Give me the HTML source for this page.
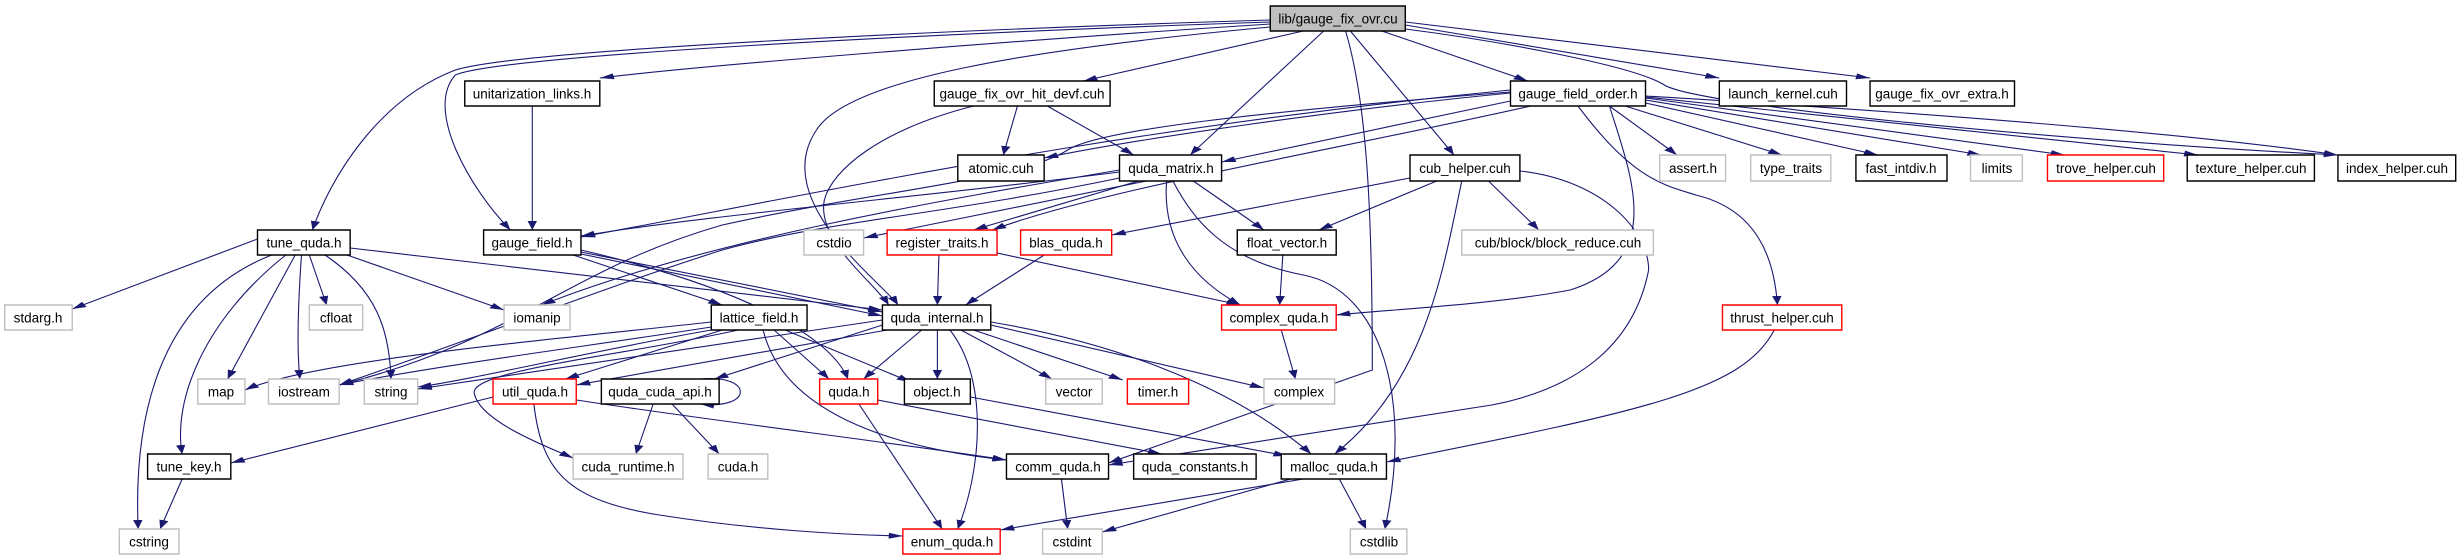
<!DOCTYPE html>
<html><head><meta charset="utf-8"><style>
html,body{margin:0;padding:0;background:#fff;width:2462px;height:560px;overflow:hidden}
svg{position:absolute;left:0;top:0}
text{font-family:"Liberation Sans",Arial,sans-serif;font-size:13.5px;fill:#000;text-anchor:middle}
</style></head><body>
<svg width="2462" height="560" viewBox="0 0 1568 560" preserveAspectRatio="none">
<defs><marker id="a" markerWidth="9" markerHeight="6" refX="9" refY="3" orient="auto" markerUnits="userSpaceOnUse"><path d="M0,0 L9,3 L0,6 z" fill="#191970"/></marker></defs>
<g fill="none" stroke="#191970" stroke-width="1.1" vector-effect="non-scaling-stroke" marker-end="url(#a)">
<path vector-effect="non-scaling-stroke" d="M809,24 C650,40 450,65 382,78"/>
<path vector-effect="non-scaling-stroke" d="M809,20 C600,30 330,50 290,70 C240,100 210,180 199,230"/>
<path vector-effect="non-scaling-stroke" d="M809,22 C600,33 320,55 290,75 C270,110 300,190 325,230"/>
<path vector-effect="non-scaling-stroke" d="M830,31 L690,81"/>
<path vector-effect="non-scaling-stroke" d="M843,31 L758,155"/>
<path vector-effect="non-scaling-stroke" d="M809,27 C650,50 540,80 520,130 C490,200 560,280 572,305"/>
<path vector-effect="non-scaling-stroke" d="M857,31 C870,100 874,200 874,370 L706,463"/>
<path vector-effect="non-scaling-stroke" d="M860,31 L926,155"/>
<path vector-effect="non-scaling-stroke" d="M880,31 L973,81"/>
<path vector-effect="non-scaling-stroke" d="M895,25 L1095,78"/>
<path vector-effect="non-scaling-stroke" d="M895,22 L1191,78"/>
<path vector-effect="non-scaling-stroke" d="M895,29 C950,40 1040,65 1060,85 C1080,105 1300,140 1489,155"/>
<path vector-effect="non-scaling-stroke" d="M339,106 L339,230"/>
<path vector-effect="non-scaling-stroke" d="M648,106 L639,155"/>
<path vector-effect="non-scaling-stroke" d="M667,106 L722,155"/>
<path vector-effect="non-scaling-stroke" d="M620,106 C560,130 530,170 525,200 C520,240 555,280 566,305"/>
<path vector-effect="non-scaling-stroke" d="M962,93 C850,110 720,140 665,158"/>
<path vector-effect="non-scaling-stroke" d="M965,100 L778,162"/>
<path vector-effect="non-scaling-stroke" d="M962,90 C700,130 500,200 370,237"/>
<path vector-effect="non-scaling-stroke" d="M975,106 C850,150 700,190 632,230"/>
<path vector-effect="non-scaling-stroke" d="M962,92 C800,112 700,130 680,150 C650,180 560,190 460,225 C360,270 330,340 216,385"/>
<path vector-effect="non-scaling-stroke" d="M1025,106 C1040,180 1060,260 1000,290 C950,305 880,310 851,315"/>
<path vector-effect="non-scaling-stroke" d="M1005,106 C1040,180 1060,185 1080,195 C1120,210 1130,260 1132,305"/>
<path vector-effect="non-scaling-stroke" d="M1025,106 L1068,155"/>
<path vector-effect="non-scaling-stroke" d="M1035,106 L1135,155"/>
<path vector-effect="non-scaling-stroke" d="M1048,103 L1196,155"/>
<path vector-effect="non-scaling-stroke" d="M1048,100 L1262,155"/>
<path vector-effect="non-scaling-stroke" d="M1048,98 L1315,155"/>
<path vector-effect="non-scaling-stroke" d="M1048,97 L1400,155"/>
<path vector-effect="non-scaling-stroke" d="M1048,96 C1250,115 1400,135 1489,155"/>
<path vector-effect="non-scaling-stroke" d="M730,181 L550,238"/>
<path vector-effect="non-scaling-stroke" d="M725,181 L620,230"/>
<path vector-effect="non-scaling-stroke" d="M760,181 L805,230"/>
<path vector-effect="non-scaling-stroke" d="M743,181 C740,240 760,280 790,305"/>
<path vector-effect="non-scaling-stroke" d="M747,181 C760,220 780,260 830,275 C880,290 900,400 882,529"/>
<path vector-effect="non-scaling-stroke" d="M713,170 C600,200 450,240 345,305"/>
<path vector-effect="non-scaling-stroke" d="M713,178 C600,215 530,220 460,250 C380,290 300,340 216,385"/>
<path vector-effect="non-scaling-stroke" d="M713,172 C600,195 450,215 370,236"/>
<path vector-effect="non-scaling-stroke" d="M898,178 L708,235"/>
<path vector-effect="non-scaling-stroke" d="M915,181 L840,230"/>
<path vector-effect="non-scaling-stroke" d="M948,181 L980,230"/>
<path vector-effect="non-scaling-stroke" d="M931,181 C920,260 910,380 850,454"/>
<path vector-effect="non-scaling-stroke" d="M968,171 C1020,180 1050,230 1050,270 C1040,350 1000,390 950,405 L706,465"/>
<path vector-effect="non-scaling-stroke" d="M164,239 L46,309"/>
<path vector-effect="non-scaling-stroke" d="M197,255 L208,305"/>
<path vector-effect="non-scaling-stroke" d="M221,255 L321,310"/>
<path vector-effect="non-scaling-stroke" d="M188,255 L145,379"/>
<path vector-effect="non-scaling-stroke" d="M192,255 C190,300 189,350 191,379"/>
<path vector-effect="non-scaling-stroke" d="M207,255 C240,290 248,330 249,379"/>
<path vector-effect="non-scaling-stroke" d="M173,255 C100,300 85,420 88,529"/>
<path vector-effect="non-scaling-stroke" d="M182,255 C130,320 110,400 116,454"/>
<path vector-effect="non-scaling-stroke" d="M223,248 L562,310"/>
<path vector-effect="non-scaling-stroke" d="M365,255 L460,305"/>
<path vector-effect="non-scaling-stroke" d="M370,252 L562,312"/>
<path vector-effect="non-scaling-stroke" d="M370,254 L562,316"/>
<path vector-effect="non-scaling-stroke" d="M370,250 C480,290 530,340 540,379"/>
<path vector-effect="non-scaling-stroke" d="M453,322 C350,340 200,360 156,390"/>
<path vector-effect="non-scaling-stroke" d="M453,327 C380,345 280,365 216,385"/>
<path vector-effect="non-scaling-stroke" d="M453,330 C380,350 300,380 266,387"/>
<path vector-effect="non-scaling-stroke" d="M460,330 L360,379"/>
<path vector-effect="non-scaling-stroke" d="M493,330 L528,379"/>
<path vector-effect="non-scaling-stroke" d="M500,330 L580,382"/>
<path vector-effect="non-scaling-stroke" d="M486,330 C500,420 580,450 641,460"/>
<path vector-effect="non-scaling-stroke" d="M470,330 C400,355 300,370 302,393 C305,420 345,445 365,458"/>
<path vector-effect="non-scaling-stroke" d="M562,325 L455,379"/>
<path vector-effect="non-scaling-stroke" d="M562,320 L266,389"/>
<path vector-effect="non-scaling-stroke" d="M565,330 L367,385"/>
<path vector-effect="non-scaling-stroke" d="M587,330 L550,379"/>
<path vector-effect="non-scaling-stroke" d="M597,330 L597,379"/>
<path vector-effect="non-scaling-stroke" d="M605,330 C630,380 625,470 610,529"/>
<path vector-effect="non-scaling-stroke" d="M612,330 L670,379"/>
<path vector-effect="non-scaling-stroke" d="M620,330 L715,380"/>
<path vector-effect="non-scaling-stroke" d="M631,325 L805,388"/>
<path vector-effect="non-scaling-stroke" d="M631,322 C700,340 780,380 835,454"/>
<path vector-effect="non-scaling-stroke" d="M598,255 L597,305"/>
<path vector-effect="non-scaling-stroke" d="M635,253 L790,305"/>
<path vector-effect="non-scaling-stroke" d="M665,255 L615,305"/>
<path vector-effect="non-scaling-stroke" d="M817,255 L815,305"/>
<path vector-effect="non-scaling-stroke" d="M816,330 L825,379"/>
<path vector-effect="non-scaling-stroke" d="M314,397 L147,463"/>
<path vector-effect="non-scaling-stroke" d="M367,400 C450,420 580,445 641,460"/>
<path vector-effect="non-scaling-stroke" d="M340,404 C345,470 360,500 420,515 C480,530 540,535 575,536"/>
<path vector-effect="non-scaling-stroke" d="M416,404 L405,454"/>
<path vector-effect="non-scaling-stroke" d="M428,404 L458,454"/>
<path vector-effect="non-scaling-stroke" d="M446,379 C480,374 480,410 446,404"/>
<path vector-effect="non-scaling-stroke" d="M547,404 L600,529"/>
<path vector-effect="non-scaling-stroke" d="M559,400 L740,454"/>
<path vector-effect="non-scaling-stroke" d="M618,397 L820,456"/>
<path vector-effect="non-scaling-stroke" d="M116,479 L102,529"/>
<path vector-effect="non-scaling-stroke" d="M676,479 L680,529"/>
<path vector-effect="non-scaling-stroke" d="M830,479 L637,530"/>
<path vector-effect="non-scaling-stroke" d="M822,479 L702,532"/>
<path vector-effect="non-scaling-stroke" d="M853,479 L870,529"/>
<path vector-effect="non-scaling-stroke" d="M1130,330 C1110,390 1050,410 883,462"/>
</g>
<g fill="#fff" stroke-width="1.4">
<rect vector-effect="non-scaling-stroke" x="809" y="6" width="86" height="25" fill="#bfbfbf" stroke="#000"/>
<g stroke="#000">
<rect vector-effect="non-scaling-stroke" x="296" y="81" width="86" height="25"/>
<rect vector-effect="non-scaling-stroke" x="595" y="81" width="112" height="25"/>
<rect vector-effect="non-scaling-stroke" x="962" y="81" width="86" height="25"/>
<rect vector-effect="non-scaling-stroke" x="1095" y="81" width="81" height="25"/>
<rect vector-effect="non-scaling-stroke" x="1191" y="81" width="92" height="25"/>
<rect vector-effect="non-scaling-stroke" x="610" y="155" width="55" height="26"/>
<rect vector-effect="non-scaling-stroke" x="713" y="155" width="65" height="26"/>
<rect vector-effect="non-scaling-stroke" x="898" y="155" width="70" height="26"/>
<rect vector-effect="non-scaling-stroke" x="1182" y="155" width="58" height="26"/>
<rect vector-effect="non-scaling-stroke" x="1393" y="155" width="81" height="26"/>
<rect vector-effect="non-scaling-stroke" x="1489" y="155" width="75" height="26"/>
<rect vector-effect="non-scaling-stroke" x="164" y="230" width="59" height="25"/>
<rect vector-effect="non-scaling-stroke" x="308" y="230" width="62" height="25"/>
<rect vector-effect="non-scaling-stroke" x="788" y="230" width="63" height="25"/>
<rect vector-effect="non-scaling-stroke" x="453" y="305" width="61" height="25"/>
<rect vector-effect="non-scaling-stroke" x="562" y="305" width="69" height="25"/>
<rect vector-effect="non-scaling-stroke" x="383" y="379" width="75" height="25"/>
<rect vector-effect="non-scaling-stroke" x="576" y="379" width="42" height="25"/>
<rect vector-effect="non-scaling-stroke" x="94" y="454" width="53" height="25"/>
<rect vector-effect="non-scaling-stroke" x="641" y="454" width="65" height="25"/>
<rect vector-effect="non-scaling-stroke" x="722" y="454" width="78" height="25"/>
<rect vector-effect="non-scaling-stroke" x="816" y="454" width="67" height="25"/>
</g>
<g stroke="#bfbfbf">
<rect vector-effect="non-scaling-stroke" x="1057" y="155" width="42" height="26"/>
<rect vector-effect="non-scaling-stroke" x="1115" y="155" width="51" height="26"/>
<rect vector-effect="non-scaling-stroke" x="1255" y="155" width="33" height="26"/>
<rect vector-effect="non-scaling-stroke" x="512" y="230" width="38" height="25"/>
<rect vector-effect="non-scaling-stroke" x="931" y="230" width="122" height="25"/>
<rect vector-effect="non-scaling-stroke" x="3" y="305" width="43" height="25"/>
<rect vector-effect="non-scaling-stroke" x="197" y="305" width="34" height="25"/>
<rect vector-effect="non-scaling-stroke" x="321" y="305" width="42" height="25"/>
<rect vector-effect="non-scaling-stroke" x="126" y="379" width="30" height="25"/>
<rect vector-effect="non-scaling-stroke" x="171" y="379" width="45" height="25"/>
<rect vector-effect="non-scaling-stroke" x="232" y="379" width="34" height="25"/>
<rect vector-effect="non-scaling-stroke" x="666" y="379" width="36" height="25"/>
<rect vector-effect="non-scaling-stroke" x="805" y="379" width="45" height="25"/>
<rect vector-effect="non-scaling-stroke" x="365" y="454" width="70" height="25"/>
<rect vector-effect="non-scaling-stroke" x="451" y="454" width="38" height="25"/>
<rect vector-effect="non-scaling-stroke" x="76" y="529" width="38" height="25"/>
<rect vector-effect="non-scaling-stroke" x="664" y="529" width="38" height="25"/>
<rect vector-effect="non-scaling-stroke" x="860" y="529" width="36" height="25"/>
</g>
<g stroke="#ff0000">
<rect vector-effect="non-scaling-stroke" x="1304" y="155" width="74" height="26"/>
<rect vector-effect="non-scaling-stroke" x="565" y="230" width="70" height="25"/>
<rect vector-effect="non-scaling-stroke" x="650" y="230" width="58" height="25"/>
<rect vector-effect="non-scaling-stroke" x="778" y="305" width="73" height="25"/>
<rect vector-effect="non-scaling-stroke" x="1097" y="305" width="76" height="25"/>
<rect vector-effect="non-scaling-stroke" x="314" y="379" width="53" height="25"/>
<rect vector-effect="non-scaling-stroke" x="522" y="379" width="37" height="25"/>
<rect vector-effect="non-scaling-stroke" x="718" y="379" width="39" height="25"/>
<rect vector-effect="non-scaling-stroke" x="575" y="529" width="62" height="25"/>
</g>
</g>
</svg>
<svg width="2462" height="560" viewBox="0 0 2462 560">
<text x="1338" y="23.5">lib/gauge_fix_ovr.cu</text>
<text x="532" y="98.5">unitarization_links.h</text>
<text x="1022" y="98.5">gauge_fix_ovr_hit_devf.cuh</text>
<text x="1578" y="98.5">gauge_field_order.h</text>
<text x="1783" y="98.5">launch_kernel.cuh</text>
<text x="1942" y="98.5">gauge_fix_ovr_extra.h</text>
<text x="1001" y="173">atomic.cuh</text>
<text x="1171" y="173">quda_matrix.h</text>
<text x="1465" y="173">cub_helper.cuh</text>
<text x="1693" y="173">assert.h</text>
<text x="1791" y="173">type_traits</text>
<text x="1901" y="173">fast_intdiv.h</text>
<text x="1997" y="173">limits</text>
<text x="2106" y="173">trove_helper.cuh</text>
<text x="2251" y="173">texture_helper.cuh</text>
<text x="2397" y="173">index_helper.cuh</text>
<text x="304" y="247.5">tune_quda.h</text>
<text x="532" y="247.5">gauge_field.h</text>
<text x="834" y="247.5">cstdio</text>
<text x="942" y="247.5">register_traits.h</text>
<text x="1066" y="247.5">blas_quda.h</text>
<text x="1287" y="247.5">float_vector.h</text>
<text x="1558" y="247.5">cub/block/block_reduce.cuh</text>
<text x="38" y="322.5">stdarg.h</text>
<text x="336" y="322.5">cfloat</text>
<text x="537" y="322.5">iomanip</text>
<text x="759" y="322.5">lattice_field.h</text>
<text x="937" y="322.5">quda_internal.h</text>
<text x="1279" y="322.5">complex_quda.h</text>
<text x="1782" y="322.5">thrust_helper.cuh</text>
<text x="221" y="396.5">map</text>
<text x="304" y="396.5">iostream</text>
<text x="391" y="396.5">string</text>
<text x="535" y="396.5">util_quda.h</text>
<text x="660" y="396.5">quda_cuda_api.h</text>
<text x="849" y="396.5">quda.h</text>
<text x="937" y="396.5">object.h</text>
<text x="1074" y="396.5">vector</text>
<text x="1158" y="396.5">timer.h</text>
<text x="1299" y="396.5">complex</text>
<text x="189" y="471.5">tune_key.h</text>
<text x="628" y="471.5">cuda_runtime.h</text>
<text x="738" y="471.5">cuda.h</text>
<text x="1058" y="471.5">comm_quda.h</text>
<text x="1195" y="471.5">quda_constants.h</text>
<text x="1334" y="471.5">malloc_quda.h</text>
<text x="149" y="546.5">cstring</text>
<text x="952" y="546.5">enum_quda.h</text>
<text x="1072" y="546.5">cstdint</text>
<text x="1379" y="546.5">cstdlib</text>
</svg>
</body></html>
